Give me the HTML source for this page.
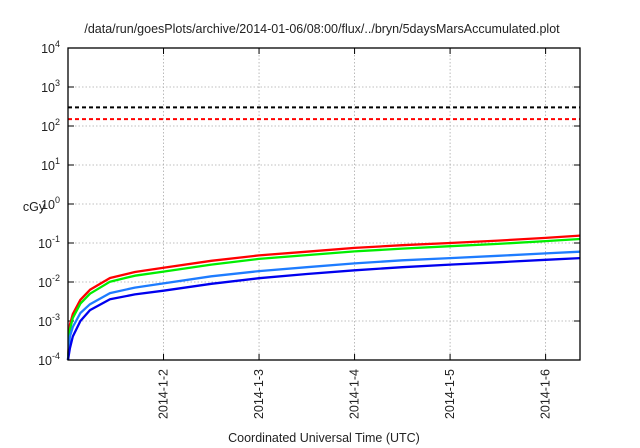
<!DOCTYPE html>
<html><head><meta charset="utf-8"><style>
body{margin:0;background:#fff;}
svg{display:block;font-family:"Liberation Sans",sans-serif;}
</style></head><body>
<svg id="chart" width="640" height="448" viewBox="0 0 640 448">
<rect width="640" height="448" fill="#fff"/>
<text x="322" y="33" font-size="12.5" text-anchor="middle" fill="#222">/data/run/goesPlots/archive/2014-01-06/08:00/flux/../bryn/5daysMarsAccumulated.plot</text>
<text x="34" y="211" font-size="12.5" text-anchor="middle" fill="#222">cGy</text>
<text x="324" y="442" font-size="12.5" text-anchor="middle" fill="#222">Coordinated Universal Time (UTC)</text>
<g id="grid"></g><g id="axes"></g><g id="series"></g>
<rect x="68" y="48" width="512" height="312" fill="none" stroke="#000" stroke-width="1.3"/>
</svg>
<script>
const days = [0.0,0.02,0.05,0.13,0.23,0.44,0.7,1.0,1.5,2.0,2.5,3.0,3.5,4.0,4.5,5.0,5.36];
const redVals = [0.0001,0.0008,0.0015,0.0035,0.0063,0.0127,0.018,0.0233,0.035,0.048,0.06,0.075,0.088,0.1,0.115,0.135,0.155];
const greenVals = [0.0001,0.0006,0.0012,0.0028,0.005,0.0102,0.0145,0.0185,0.028,0.039,0.049,0.061,0.072,0.083,0.095,0.112,0.127];
const lightBlueVals = [0.0001,0.0004,0.0007,0.0016,0.0027,0.0052,0.0072,0.0092,0.014,0.019,0.024,0.03,0.036,0.041,0.047,0.054,0.06];
const blueVals = [0.0001,0.0002,0.0004,0.001,0.0019,0.0036,0.0048,0.006,0.009,0.0125,0.016,0.02,0.024,0.028,0.032,0.037,0.041];
const thresholdBlack = 300;
const thresholdRed = 150;
const xTickDays = [1,2,3,4,5];
const xTickLabels = ["2014-1-2","2014-1-3","2014-1-4","2014-1-5","2014-1-6"];
const yTickExps = [-4,-3,-2,-1,0,1,2,3,4];

const NS="http://www.w3.org/2000/svg";
const L=68,R=580,T=48,B=360,X0=0,X1=5.36,E0=-4,E1=4;
const xs=d=>L+(d-X0)/(X1-X0)*(R-L);
const ys=v=>B-(Math.log10(v)-E0)/(E1-E0)*(B-T);
function mk(tag,attrs,parent){const e=document.createElementNS(NS,tag);for(const k in attrs)e.setAttribute(k,attrs[k]);parent.appendChild(e);return e;}
const grid=document.getElementById('grid'),axes=document.getElementById('axes'),series=document.getElementById('series');
yTickExps.forEach(p=>{
  const y=ys(Math.pow(10,p));
  if(p>E0&&p<E1){const g=mk('line',{x1:L,x2:R,y1:y,y2:y,stroke:'#aaa','stroke-width':0.8,'stroke-dasharray':'1.5,2'},grid);
  
  }
  mk('line',{x1:L,x2:L+6,y1:y,y2:y,stroke:'#000'},axes);
  mk('line',{x1:R-6,x2:R,y1:y,y2:y,stroke:'#000'},axes);
  const t=mk('text',{x:L-8,y:y+5,'font-size':12.5,'text-anchor':'end',fill:'#222'},axes);
  
  
  t.innerHTML='10<tspan dy="-6" font-size="9">'+p+'</tspan>';
});
xTickDays.forEach((d,i)=>{
  const x=xs(d);
  const g=mk('line',{x1:x,x2:x,y1:T,y2:B,stroke:'#aaa','stroke-width':0.8,'stroke-dasharray':'1.5,2'},grid);
  
  
  mk('line',{x1:x,x2:x,y1:B-6,y2:B,stroke:'#000'},axes);
  mk('line',{x1:x,x2:x,y1:T,y2:T+6,stroke:'#000'},axes);
  const t=mk('text',{x:0,y:0,'font-size':12.5,'text-anchor':'end',fill:'#222',transform:`translate(${x+4},${B+9}) rotate(-90)`},axes);
  
  
  t.textContent=xTickLabels[i];
});
[[thresholdBlack,'#000','threshold-black'],[thresholdRed,'#f00','threshold-red']].forEach(([v,c,n])=>{
  const l=mk('line',{x1:L,x2:R,y1:ys(v),y2:ys(v),stroke:c,'stroke-width':2,'stroke-dasharray':'4,3'},series);
  
  
});
[[redVals,'#ff0000','series-red'],[greenVals,'#00ee00','series-green'],[lightBlueVals,'#1e7cff','series-light-blue'],[blueVals,'#0000ee','series-blue']].forEach(([vals,c,n])=>{
  const d=vals.map((v,i)=>(i?'L':'M')+xs(days[i]).toFixed(1)+','+ys(v).toFixed(1)).join('');
  const p=mk('path',{d:d,fill:'none',stroke:c,'stroke-width':2.3,'stroke-linejoin':'round'},series);
  
  
});
</script>
</body></html>
